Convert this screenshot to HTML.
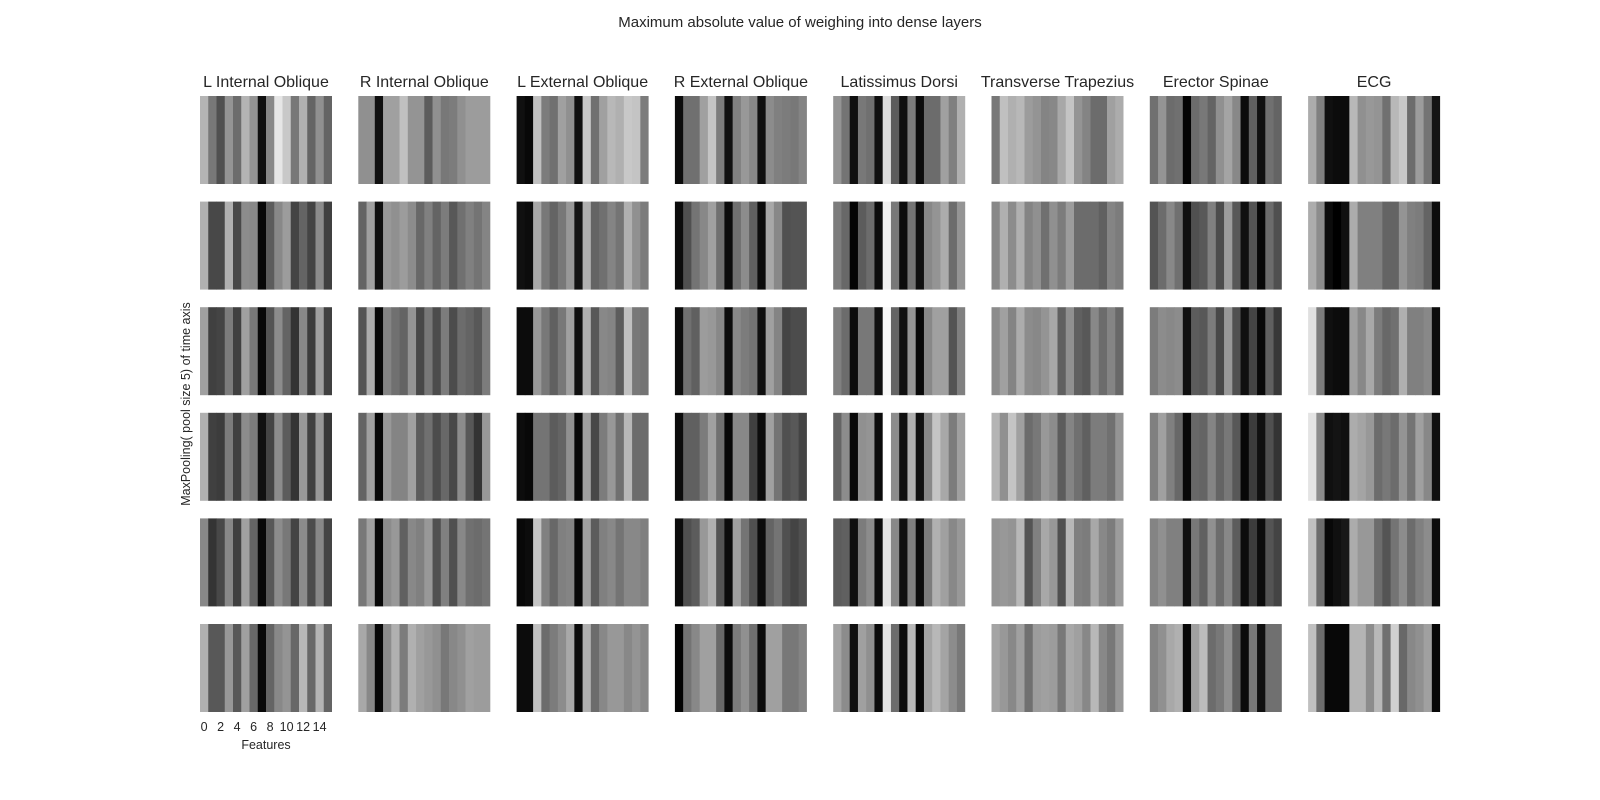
<!DOCTYPE html>
<html><head><meta charset="utf-8"><style>
html,body{margin:0;padding:0;background:#fff;}
svg{display:block;font-family:"Liberation Sans","DejaVu Sans",sans-serif;fill:#262626;}
</style></head><body>
<svg id="chart" width="1600" height="800" viewBox="0 0 1600 800">
<text x="800" y="27" text-anchor="middle" font-size="15">Maximum absolute value of weighing into dense layers</text>
<g id="titles"></g>
<g id="panels"></g>
<text transform="translate(190,404) rotate(-90)" text-anchor="middle" font-size="12.5">MaxPooling( pool size 5) of time axis</text>
<g id="ticks"></g>
<text x="266" y="749" text-anchor="middle" font-size="12.5">Features</text>
</svg>
<script>
const muscles = ["L Internal Oblique","R Internal Oblique","L External Oblique","R External Oblique","Latissimus Dorsi","Transverse Trapezius","Erector Spinae","ECG"];
const xTicks = [0,2,4,6,8,10,12,14];
const nFeatures = 16;
// gray levels (0 = black, 255 = white) per muscle, per pooled time row
const grayLIO = [
[0xb4,0x78,0x50,0x94,0x6c,0xb4,0x94,0x10,0x88,0xe6,0xc8,0x78,0xb0,0x64,0x90,0x64],
[0xb0,0x48,0x48,0xb0,0x48,0x8c,0x88,0x08,0x5c,0x88,0x9c,0x44,0x64,0x44,0x8c,0x40],
[0xa0,0x40,0x44,0x7c,0x40,0xa0,0x78,0x08,0x54,0x8c,0x64,0x34,0x88,0x3c,0xa0,0x40],
[0xb0,0x40,0x3c,0x7c,0x40,0x8c,0x7c,0x10,0x44,0x8c,0x5c,0x34,0x98,0x40,0x98,0x38],
[0x88,0x34,0x48,0x88,0x40,0xa0,0x64,0x08,0x58,0x8c,0x78,0x44,0x8c,0x4c,0x88,0x44],
[0xb0,0x58,0x58,0x98,0x58,0xa0,0x68,0x08,0x64,0x88,0x94,0x68,0xb8,0x68,0xb4,0x64]];
const grayRIO = [
[0x90,0x90,0x10,0xa0,0xa0,0xc0,0x94,0x94,0x5c,0x90,0x78,0x7c,0x90,0x9c,0x9c,0x9c],
[0x64,0xa0,0x10,0x98,0x90,0x9c,0x8c,0x68,0x80,0x64,0x7c,0x58,0x70,0x80,0x74,0x84],
[0x54,0xac,0x08,0x84,0x70,0x64,0x94,0x48,0x78,0x4c,0x7c,0x4c,0x6c,0x64,0x58,0x7c],
[0x64,0xa0,0x08,0x98,0x84,0x84,0xa0,0x5c,0x70,0x4c,0x68,0x48,0x8c,0x58,0x34,0x98],
[0x78,0xa0,0x08,0x8c,0x98,0x60,0x88,0x80,0x98,0x50,0x80,0x50,0x88,0x70,0x6c,0x74],
[0xa8,0x88,0x08,0x8c,0xb0,0x7c,0xb0,0xa0,0x98,0x90,0x78,0x88,0x90,0xa0,0x9c,0x9c]];
const grayLEO = [
[0x10,0x08,0xc0,0x7c,0x70,0xa0,0x90,0x10,0xc8,0x70,0xa0,0xb8,0xb0,0xc8,0xc4,0x7c],
[0x10,0x0c,0xa8,0x78,0x64,0x78,0x98,0x14,0xb0,0x64,0x70,0x84,0x74,0xb0,0x90,0x7c],
[0x0c,0x0c,0x98,0x78,0x60,0x78,0xa0,0x10,0xb0,0x58,0x88,0x84,0x5c,0xc0,0x78,0x74],
[0x0c,0x08,0x74,0x74,0x5c,0x64,0x90,0x08,0xa0,0x48,0x7c,0x98,0x70,0xb8,0x6c,0x6c],
[0x08,0x0c,0xc4,0x80,0x68,0x80,0x84,0x08,0xa0,0x5c,0x80,0x88,0x74,0x88,0x88,0x80],
[0x0c,0x0c,0xc0,0x6c,0x7c,0x8c,0xa8,0x0c,0xb0,0x6c,0x88,0x98,0x98,0x88,0x94,0x88]];
const grayREO = [
[0x0c,0x70,0x70,0xa0,0xc4,0x7c,0x10,0x80,0x98,0x88,0x10,0x8c,0x80,0x7c,0x78,0x84],
[0x0c,0x50,0x74,0x88,0xa0,0x70,0x0c,0x70,0x8c,0x60,0x0c,0xa8,0x88,0x50,0x54,0x54],
[0x0c,0x70,0x60,0x9c,0x98,0x88,0x0c,0x88,0x7c,0x74,0x10,0xa0,0x84,0x44,0x4c,0x4c],
[0x0c,0x60,0x60,0x7c,0xa0,0x70,0x08,0x88,0x88,0x40,0x0c,0xa0,0x74,0x50,0x58,0x44],
[0x0c,0x50,0x5c,0x98,0xb0,0x54,0x0c,0xa0,0x74,0x50,0x0c,0x64,0x74,0x50,0x44,0x50],
[0x04,0x74,0x88,0xa0,0xa0,0x68,0x0c,0x7c,0x90,0x70,0x0c,0xa0,0xa0,0x78,0x78,0x84]];
const grayLD = [
[0x94,0x74,0x10,0x78,0x70,0x10,0xdc,0x5c,0x10,0x7c,0x0c,0x6c,0x6c,0xa0,0x80,0xb0],
[0x7c,0x68,0x04,0x5c,0x6c,0x0c,0xf0,0x78,0x0c,0x74,0x10,0x88,0x94,0xac,0x6c,0x94],
[0x80,0x6c,0x0c,0x78,0x78,0x10,0xf8,0x64,0x10,0x94,0x08,0x88,0xa0,0xa0,0x54,0x80],
[0x64,0x8c,0x08,0x90,0x94,0x0c,0xff,0x8c,0x10,0xb0,0x10,0x88,0xc4,0xa8,0x7c,0xa0],
[0x5c,0x60,0x10,0x7c,0x8c,0x0c,0xe4,0x88,0x10,0x80,0x0c,0x7c,0xb0,0xa0,0x88,0x98],
[0xa4,0x8c,0x10,0xa0,0x90,0x0c,0xe4,0x6c,0x0c,0xb8,0x08,0xa4,0xb8,0xa4,0x8c,0x78]];
const grayTT = [
[0x78,0xc0,0xb0,0xb8,0x9c,0x94,0x84,0x88,0xa8,0xc4,0x94,0x84,0x6c,0x6c,0xa0,0xac],
[0x88,0xb0,0x8c,0xb0,0x84,0x90,0x70,0x90,0x7c,0x9c,0x6c,0x6c,0x6c,0x60,0x84,0x7c],
[0x8c,0xa0,0x84,0xac,0x8c,0x88,0x94,0xa8,0x60,0x90,0x60,0x58,0x88,0x6c,0x84,0x68],
[0xb4,0x90,0xc4,0xa0,0x6c,0x78,0x98,0x8c,0x5c,0x84,0x70,0x60,0x7c,0x7c,0x70,0x94],
[0x94,0x98,0x94,0xb8,0x54,0x80,0xa8,0x98,0x50,0xb8,0x80,0x7c,0xa8,0x88,0x7c,0x9c],
[0xa4,0x98,0x88,0xa0,0x70,0x9c,0xa0,0x9c,0x78,0xa8,0xa0,0x88,0xb8,0x88,0x78,0x98]];
const grayES = [
[0x70,0x94,0x6c,0x70,0x04,0x6c,0x78,0x64,0x90,0xa4,0x88,0x0c,0x60,0x10,0x70,0x64],
[0x54,0x6c,0x88,0x70,0x10,0x50,0x58,0x80,0x4c,0x9c,0x58,0x10,0x54,0x08,0x6c,0x50],
[0x7c,0x8c,0x88,0x8c,0x10,0x5c,0x58,0x7c,0x48,0x98,0x50,0x10,0x44,0x08,0x60,0x38],
[0x80,0xa0,0x80,0x68,0x08,0x68,0x64,0x84,0x64,0x78,0x58,0x08,0x3c,0x10,0x50,0x34],
[0x84,0x90,0x80,0x80,0x10,0x78,0x60,0x90,0x6c,0x88,0x5c,0x0c,0x3c,0x0c,0x54,0x44],
[0x84,0x90,0xa8,0xb0,0x08,0xa0,0xbc,0x6c,0x78,0x90,0x60,0x0c,0x78,0x10,0x70,0x70]];
const grayECG = [
[0xac,0x80,0x10,0x0c,0x0c,0xb8,0x90,0x98,0x94,0x70,0xb8,0xc8,0x6c,0x9c,0x74,0x14],
[0xac,0x8c,0x0c,0x00,0x10,0xac,0x80,0x80,0x80,0x64,0x64,0x94,0x80,0x7c,0x64,0x0c],
[0xe0,0x7c,0x10,0x0c,0x0c,0xa0,0x88,0xa8,0x7c,0x68,0x70,0xb0,0x80,0x80,0x88,0x0c],
[0xe4,0x8c,0x10,0x14,0x10,0xac,0xa4,0x98,0x6c,0x78,0x6c,0x94,0x74,0xa0,0x88,0x10],
[0xc0,0x6c,0x08,0x10,0x18,0xac,0x98,0x98,0x6c,0x54,0x74,0x8c,0x6c,0x80,0x8c,0x0c],
[0xc0,0x6c,0x08,0x08,0x08,0xb4,0xb4,0x8c,0xb8,0x70,0xd0,0x68,0x88,0x90,0xa0,0x08]];
const grayData = [grayLIO, grayRIO, grayLEO, grayREO, grayLD, grayTT, grayES, grayECG];

const NS = "http://www.w3.org/2000/svg";
const panelX0 = 200, panelStep = 158.3, panelW = 132;
const rowY0 = 96, rowStep = 105.6, panelH = 88;
function xScale(p, f){ return panelX0 + p*panelStep + f*panelW/nFeatures; }
function yScale(r){ return rowY0 + r*rowStep; }
function grayCol(v){ v=Math.max(0,Math.min(255,Math.round(v))); return "rgb("+v+","+v+","+v+")"; }

const titles = document.getElementById("titles");
const panels = document.getElementById("panels");
muscles.forEach((m, p) => {
  const t = document.createElementNS(NS, "text");
  t.setAttribute("x", xScale(p, nFeatures/2));
  t.setAttribute("y", 87);
  t.setAttribute("text-anchor", "middle");
  t.setAttribute("font-size", "16");
  t.textContent = m;
  
  
  titles.appendChild(t);
  grayData[p].forEach((row, r) => {
    const g = document.createElementNS(NS, "g");
    
    
    row.forEach((v, f) => {
      const rc = document.createElementNS(NS, "rect");
      const x0 = xScale(p, f), x1 = xScale(p, f+1);
      rc.setAttribute("x", x0.toFixed(2));
      rc.setAttribute("y", yScale(r).toFixed(2));
      rc.setAttribute("width", (x1 - x0 + (f < nFeatures-1 ? 0.4 : 0)).toFixed(2));
      rc.setAttribute("height", panelH);
      rc.setAttribute("fill", grayCol(v));
      
      
      g.appendChild(rc);
    });
    panels.appendChild(g);
  });
});
const ticks = document.getElementById("ticks");
xTicks.forEach(v => {
  const t = document.createElementNS(NS, "text");
  t.setAttribute("x", xScale(0, v + 0.5));
  t.setAttribute("y", 731);
  t.setAttribute("text-anchor", "middle");
  t.setAttribute("font-size", "12.5");
  t.textContent = v;
  
  
  ticks.appendChild(t);
});
</script>
</body></html>
